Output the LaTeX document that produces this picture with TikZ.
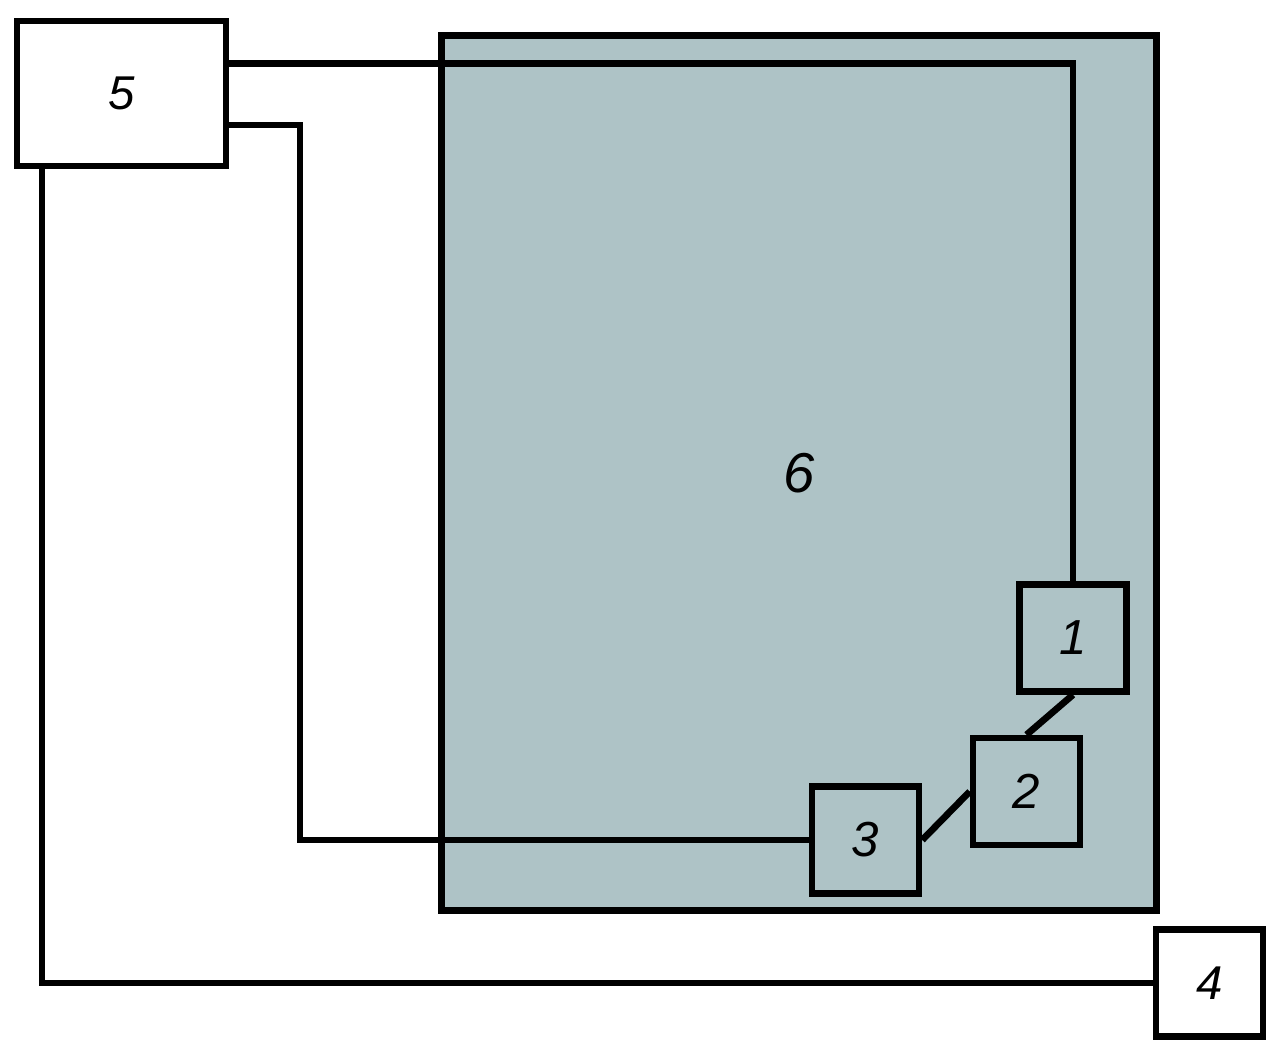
\documentclass[tikz,border=0pt]{standalone}
\usepackage{fontspec}
\setsansfont{Liberation Sans}
\usepackage{tikz}
\usetikzlibrary{positioning,calc}
\definecolor{chamber}{HTML}{AEC3C6}

\begin{document}
\begin{tikzpicture}[x=0.02cm,y=-0.02cm,
    unit/.style={rectangle,draw,line width=0.13cm,inner sep=0pt,
        minimum width=2.14cm,minimum height=2.14cm,
        font=\fontsize{28}{30}\selectfont\sffamily\itshape},
    wire/.style={line width=0.135cm}]

\useasboundingbox (0,0) rectangle (1285,1062);

% Chambre
\node[unit,fill=chamber,line width=0.14cm,minimum width=14.3cm,minimum height=17.5cm,
    font=\fontsize{32}{34}\selectfont\sffamily\itshape] (b6) at (799,473) {6};

% Blocs
\node[unit,fill=white,minimum width=4.18cm,minimum height=2.9cm,
    font=\fontsize{27}{29}\selectfont\sffamily\itshape] (b5) at (121.5,93.5) {5};
\node[unit,fill=chamber] (b1) at (1073,638) {1};
\node[unit,fill=chamber] (b2) at (1026.5,791.5) {2};
\node[unit,fill=chamber] (b3) at (865.5,840) {3};
\node[unit,fill=white,font=\fontsize{27}{29}\selectfont\sffamily\itshape] (b4) at (1209.5,983) {4};

% Liaisons
\draw[wire] (b5.east |- 0,63.5) -| (b1.north);
\draw[wire] (b5.east |- 0,125) -| (300,840) -- (b3.west);
\draw[wire] (b5.south -| 42,0) |- (b4.west);
\draw[wire] (b1.south) -- (b2.north);
\draw[wire] (b2.west) -- (b3.east);

\end{tikzpicture}
\end{document}
